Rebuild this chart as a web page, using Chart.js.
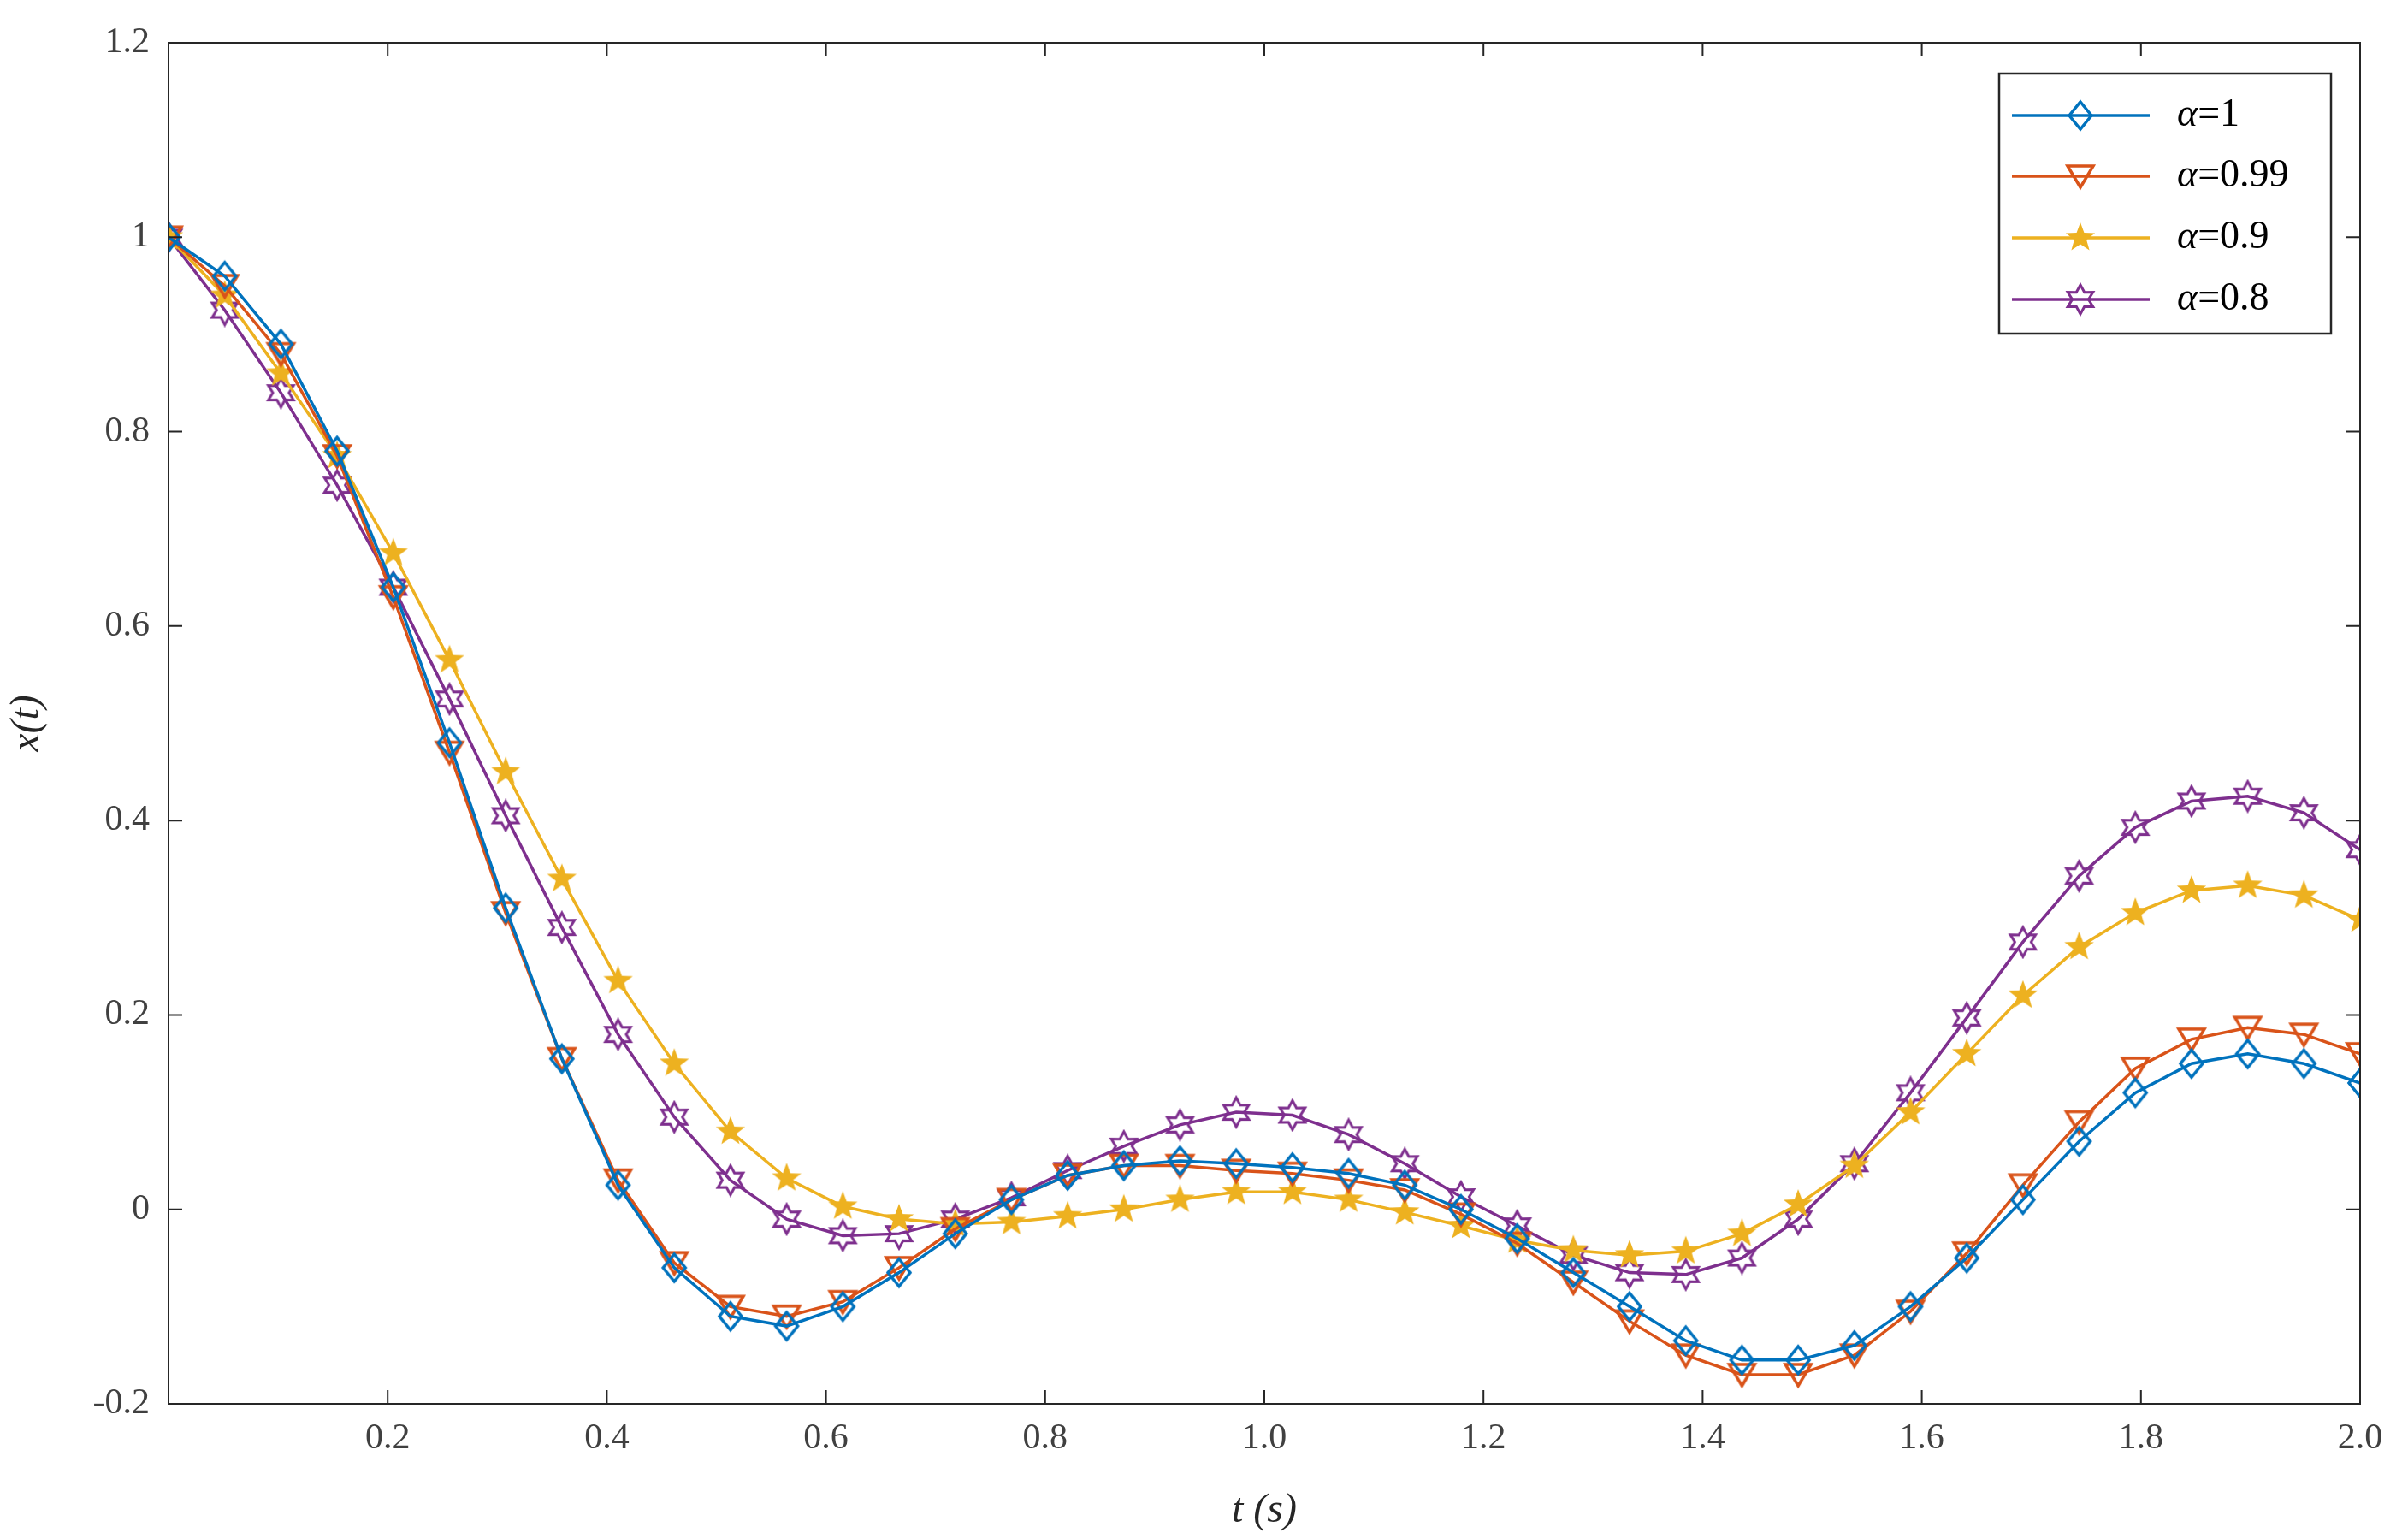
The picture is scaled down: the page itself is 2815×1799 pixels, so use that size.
<!DOCTYPE html>
<html><head><meta charset="utf-8">
<script src="https://cdn.jsdelivr.net/npm/chart.js@4"></script>
<style>html,body{margin:0;padding:0;background:#fff}#w{width:2815px;height:1799px}</style>
</head><body><div id="w"><canvas id="c"></canvas></div>
<script>
const N = 40;
const tValues = Array.from({length:N},(_, i)=> i*2/39);
const alpha1 = [1.0,0.96,0.89,0.78,0.64,0.48,0.31,0.155,0.025,-0.06,-0.11,-0.12,-0.10,-0.065,-0.025,0.01,0.035,0.045,0.05,0.047,0.043,0.037,0.025,0.0,-0.03,-0.065,-0.10,-0.135,-0.155,-0.155,-0.14,-0.10,-0.05,0.01,0.07,0.12,0.15,0.16,0.15,0.13];
const alpha099 = [1.0,0.95,0.88,0.775,0.63,0.47,0.305,0.155,0.03,-0.055,-0.10,-0.11,-0.095,-0.06,-0.02,0.01,0.035,0.045,0.045,0.04,0.037,0.03,0.02,-0.005,-0.035,-0.075,-0.115,-0.15,-0.17,-0.17,-0.15,-0.105,-0.045,0.025,0.09,0.145,0.175,0.187,0.18,0.16];
const alpha09 = [1.0,0.94,0.86,0.775,0.675,0.565,0.45,0.34,0.235,0.15,0.08,0.032,0.003,-0.01,-0.015,-0.013,-0.007,0.0,0.01,0.018,0.018,0.01,-0.003,-0.017,-0.032,-0.042,-0.047,-0.043,-0.025,0.005,0.045,0.1,0.16,0.22,0.27,0.305,0.328,0.333,0.323,0.298];
const alpha08 = [1.0,0.925,0.84,0.745,0.64,0.525,0.405,0.29,0.18,0.095,0.03,-0.01,-0.027,-0.025,-0.01,0.012,0.04,0.065,0.087,0.1,0.097,0.077,0.047,0.013,-0.017,-0.047,-0.065,-0.067,-0.05,-0.01,0.047,0.12,0.197,0.275,0.343,0.393,0.42,0.425,0.408,0.37];
const seriesLabels = ['1','0.99','0.9','0.8'];
const colors = ['#0072BD','#D95319','#EDB120','#7E2F8E'];

function mk(draw){const c=document.createElement('canvas');c.width=40;c.height=40;const g=c.getContext('2d');g.lineWidth=3.5;draw(g);return c;}
function starPath(g,n,ro,ri){g.beginPath();for(let k=0;k<2*n;k++){const r=k%2?ri:ro;const a=-Math.PI/2+k*Math.PI/n;g.lineTo(20+r*Math.cos(a),20+r*Math.sin(a));}g.closePath();}
const markers = [
 mk(g=>{g.strokeStyle=colors[0];g.beginPath();g.moveTo(20,4);g.lineTo(33,20);g.lineTo(20,36);g.lineTo(7,20);g.closePath();g.stroke();}),
 mk(g=>{g.strokeStyle=colors[1];g.beginPath();g.moveTo(5,8);g.lineTo(35,8);g.lineTo(20,33);g.closePath();g.stroke();}),
 mk(g=>{g.fillStyle=colors[2];starPath(g,5,18,7.5);g.fill();}),
 mk(g=>{g.strokeStyle=colors[3];g.lineWidth=3;starPath(g,6,17,9.5);g.stroke();})
];
const allData=[alpha1,alpha099,alpha09,alpha08];
const datasets = allData.map((d,i)=>({label:'α='+seriesLabels[i],data:d.map((y,j)=>({x:tValues[j],y})),borderColor:colors[i],backgroundColor:colors[i],borderWidth:3.5,pointStyle:markers[i],pointRadius:16,tension:0}));

const FONT='"Liberation Serif","DejaVu Serif",serif';
const frame={id:'frame',afterDraw(ch){const {ctx,chartArea:a,scales:{x,y}}=ch;ctx.save();ctx.strokeStyle='#262626';ctx.lineWidth=2;ctx.strokeRect(a.left,a.top,a.right-a.left,a.bottom-a.top);
 const L=16;ctx.beginPath();
 for(let v=0.2;v<=2.001;v+=0.2){const p=x.getPixelForValue(v);ctx.moveTo(p,a.bottom);ctx.lineTo(p,a.bottom-L);ctx.moveTo(p,a.top);ctx.lineTo(p,a.top+L);}
 for(let v=-0.2;v<=1.201;v+=0.2){const p=y.getPixelForValue(v);ctx.moveTo(a.left,p);ctx.lineTo(a.left+L,p);ctx.moveTo(a.right,p);ctx.lineTo(a.right-L,p);}
 ctx.stroke();
 ctx.fillStyle='#fff';ctx.lineWidth=2.5;ctx.fillRect(2337,86,388,304);ctx.strokeRect(2337,86,388,304);
 const ys=[135,206,278,350];
 ys.forEach((yy,i)=>{ctx.strokeStyle=colors[i];ctx.lineWidth=3.5;ctx.beginPath();ctx.moveTo(2352,yy);ctx.lineTo(2513,yy);ctx.stroke();ctx.drawImage(markers[i],2432-20,yy-20);
  ctx.fillStyle='#000';ctx.textBaseline='middle';ctx.font='italic 46px '+FONT;ctx.fillText('α',2545,yy);const w=ctx.measureText('α').width;ctx.font='46px '+FONT;ctx.fillText('='+seriesLabels[i],2545+w,yy);});
 ctx.restore();}};

new Chart(document.getElementById('c'),{type:'line',data:{datasets},
 options:{responsive:true,maintainAspectRatio:false,animation:false,devicePixelRatio:1,
  layout:{padding:{top:50,right:56,left:0,bottom:0}},
  plugins:{legend:{display:false},tooltip:{enabled:false}},
  scales:{
   x:{type:'linear',min:0,max:2,grid:{display:false},border:{display:false},
    afterFit(s){s.height=158;},
    ticks:{stepSize:0.2,color:'#404040',font:{family:FONT,size:42},padding:8,maxRotation:0,autoSkip:false,callback:v=>Math.abs(v)<1e-9?'':v.toFixed(1)},
    title:{display:true,text:'t (s)',color:'#262626',font:{family:FONT,size:48,style:'italic'},padding:{top:0}}},
   y:{type:'linear',min:-0.2,max:1.2,grid:{display:false},border:{display:false},
    afterFit(s){s.width=197;},
    ticks:{stepSize:0.2,color:'#404040',font:{family:FONT,size:42},padding:14,callback:v=>String(Number(v.toFixed(1)))},
    title:{display:true,text:'x(t)',color:'#262626',font:{family:FONT,size:48,style:'italic'},padding:{bottom:6}}}
  }},plugins:[frame]});
</script></body></html>
